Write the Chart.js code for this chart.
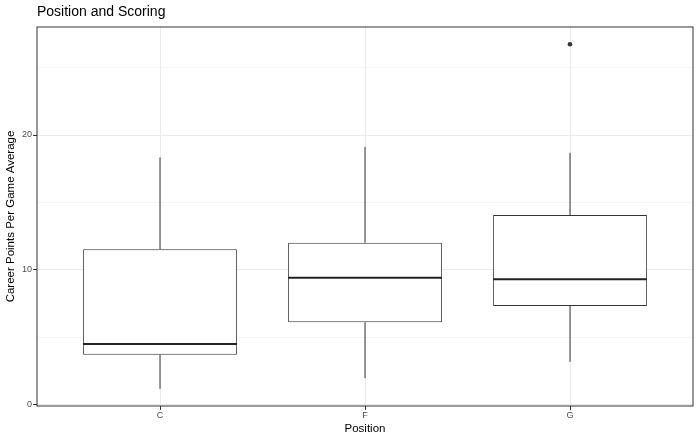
<!DOCTYPE html>
<html>
<head>
<meta charset="utf-8">
<script src="https://cdn.jsdelivr.net/npm/chart.js@4/dist/chart.umd.min.js"></script>
<style>
  html, body { margin: 0; padding: 0; background: #ffffff; }
  canvas { display: block; }
</style>
</head>
<body>
<canvas id="chart" width="700" height="443"></canvas>
<script>
// ---- data ----
const categories  = ['C', 'F', 'G'];
const whiskerLow  = [1.16, 1.95, 3.16];
const q1          = [3.68, 6.09, 7.31];
const median      = [4.49, 9.40, 9.30];
const q3          = [11.52, 12.01, 14.06];
const whiskerHigh = [18.33, 19.12, 18.68];
const outliers    = [[], [], [26.74]];
const yMajorTicks = [0, 10, 20];
const yMinorTicks = [5, 15, 25];

// ---- styling ----
const FONT = "'Liberation Sans', Arial, Helvetica, sans-serif";
const BOX_WIDTH = 0.75;          // ggplot default box width (fraction of category spacing)
const LINE = '#333333';
const GRID = '#EBEBEB';

// y range: ggplot expands the data range by 5% each side
const allVals = whiskerLow.concat(whiskerHigh, outliers.flat());
const dMin = Math.min(...allVals), dMax = Math.max(...allVals);
const yPad = 0.05 * (dMax - dMin);

const boxData = categories.map((c, i) => ({ x: i + 1, y: [q1[i], q3[i]] }));
const whiskerData = [];
categories.forEach((c, i) => {
  whiskerData.push({ x: i + 1, y: q3[i] }, { x: i + 1, y: whiskerHigh[i] }, { x: i + 1, y: null });
  whiskerData.push({ x: i + 1, y: whiskerLow[i] }, { x: i + 1, y: q1[i] }, { x: i + 1, y: null });
});
const medianData = [];
categories.forEach((c, i) => {
  medianData.push({ x: i + 1 - BOX_WIDTH / 2, y: median[i] }, { x: i + 1 + BOX_WIDTH / 2, y: median[i] }, { x: i + 1, y: null });
});
const outlierData = [];
outliers.forEach((arr, i) => arr.forEach(v => outlierData.push({ x: i + 1, y: v })));

const isMajor = v => yMajorTicks.includes(v);

const panelBorder = {
  id: 'panelBorder',
  afterDatasetsDraw(chart) {
    const { ctx, chartArea: a } = chart;
    ctx.save();
    ctx.strokeStyle = LINE;
    ctx.lineWidth = 1;
    ctx.strokeRect(Math.round(a.left), Math.round(a.top), Math.round(a.right - a.left), Math.round(a.bottom - a.top));
    ctx.restore();
  }
};

new Chart(document.getElementById('chart'), {
  type: 'bar',
  data: {
    datasets: [
      {
        type: 'bar',
        data: boxData,
        backgroundColor: '#ffffff',
        borderColor: LINE,
        borderWidth: 1,
        borderSkipped: false,
        barPercentage: BOX_WIDTH,
        categoryPercentage: 1,
        grouped: false,
        order: 4
      },
      {
        type: 'line',
        data: whiskerData,
        borderColor: LINE,
        borderWidth: 1,
        pointRadius: 0,
        pointHoverRadius: 0,
        fill: false,
        spanGaps: false,
        borderCapStyle: 'butt',
        order: 3
      },
      {
        type: 'line',
        data: medianData,
        borderColor: '#222222',
        borderWidth: 2,
        pointRadius: 0,
        pointHoverRadius: 0,
        fill: false,
        spanGaps: false,
        borderCapStyle: 'butt',
        order: 2
      },
      {
        type: 'scatter',
        data: outlierData,
        pointRadius: 2.3,
        pointBackgroundColor: LINE,
        pointBorderWidth: 0,
        order: 1
      }
    ]
  },
  options: {
    responsive: false,
    animation: false,
    devicePixelRatio: 1,
    events: [],
    layout: { padding: { left: 0, right: 7, top: 0, bottom: 0 } },
    plugins: {
      legend: { display: false },
      tooltip: { enabled: false },
      title: {
        display: true,
        text: 'Position and Scoring',
        align: 'start',
        fullSize: false,
        color: '#000000',
        font: { family: FONT, size: 14, weight: 'normal' },
        padding: { top: 3.6, bottom: 6.6 }
      }
    },
    scales: {
      x: {
        type: 'linear',
        min: 0.4,
        max: 3.6,
        offset: false,
        afterBuildTicks: s => { s.ticks = categories.map((c, i) => ({ value: i + 1 })); },
        afterFit: s => { s.height = 37; },
        ticks: {
          callback: (v, i) => categories[i],
          color: '#4D4D4D',
          font: { family: FONT, size: 9 },
          padding: 0,
          maxRotation: 0,
          autoSkip: false
        },
        grid: { offset: false, color: GRID, lineWidth: 1, tickColor: LINE, tickLength: 4, tickWidth: 1 },
        border: { display: false },
        title: {
          display: true,
          text: 'Position',
          color: '#000000',
          font: { family: FONT, size: 11.5 },
          padding: { top: 0, bottom: 7.1 }
        }
      },
      y: {
        type: 'linear',
        min: dMin - yPad,
        max: dMax + yPad,
        offset: false,
        afterBuildTicks: s => {
          s.ticks = yMajorTicks.concat(yMinorTicks).sort((a, b) => a - b).map(v => ({ value: v }));
        },
        afterFit: s => { s.width = 37; },
        ticks: {
          callback: v => (isMajor(v) ? String(v) : ''),
          color: '#4D4D4D',
          font: { family: FONT, size: 9 },
          padding: 1
        },
        grid: {
          offset: false,
          color: GRID,
          lineWidth: ctx => (ctx.tick && !isMajor(ctx.tick.value) ? 0.5 : 1),
          tickColor: ctx => (ctx.tick && !isMajor(ctx.tick.value) ? 'rgba(0,0,0,0)' : LINE),
          tickLength: 4,
          tickWidth: 1
        },
        border: { display: false },
        title: {
          display: true,
          text: 'Career Points Per Game Average',
          color: '#000000',
          font: { family: FONT, size: 11.5 },
          padding: { top: 3.5, bottom: 0 }
        }
      }
    }
  },
  plugins: [panelBorder]
});
</script>
</body>
</html>
